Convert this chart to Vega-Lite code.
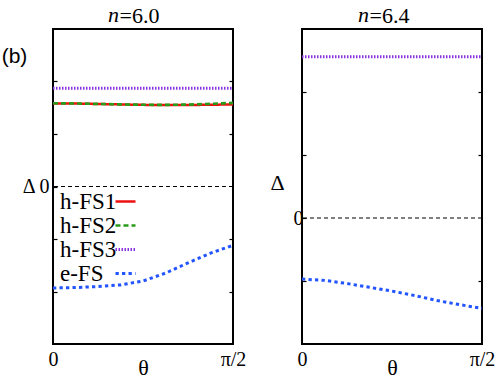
{
  "$schema": "https://vega.github.io/schema/vega-lite/v6.json",
  "padding": {"left": 0, "top": 3, "right": 0, "bottom": 0},
  "autosize": {"type": "pad"},
  "background": "white",
  "config": {
    "font": "Liberation Serif",
    "view": {"stroke": "black", "strokeWidth": 2},
    "axis": {"grid": false, "domain": false, "labelFont": "Liberation Serif", "titleFont": "Liberation Serif", "labelFontSize": 20, "titleFontSize": 22, "labelColor": "black", "titleColor": "black", "tickColor": "black", "tickWidth": 1.2, "titleFontWeight": "normal"},
    "title": {"font": "Liberation Serif", "fontSize": 22, "fontWeight": "normal", "color": "black"}
  },
  "bounds": "flush",
  "spacing": 69,
  "resolve": {"scale": {"color": "independent", "strokeDash": "independent", "strokeWidth": "independent"}},
  "hconcat": [
    {
      "width": 180,
      "height": 315,
      "title": {"text": "n", "fontStyle": "italic", "anchor": "start", "frame": "group", "dx": 55, "dy": 27},
      "resolve": {"axis": {"x": "independent", "y": "independent"}},
      "layer": [
        {
          "data": {"values": [{"level": 0}]},
          "mark": {"type": "rule", "strokeDash": [4, 3], "strokeWidth": 1, "color": "black"},
          "encoding": {
            "y": {"field": "level", "type": "quantitative", "scale": {"domain": [-3, 3], "nice": false}, "axis": {"orient": "right", "values": [-2, -1, 1, 2], "labels": false, "tickSize": -4, "title": null}}
          }
        },
        {
          "data": {"values": [{"level": 0}]},
          "mark": {"type": "point", "opacity": 0},
          "encoding": {
            "x": {"field": "level", "type": "quantitative", "scale": {"domain": [0, 1.5708], "nice": false, "zero": false}, "axis": {"orient": "top", "ticks": false, "labels": false, "title": "=6.0", "titleX": 66, "titleY": -7, "titleAlign": "left", "titleAnchor": "start", "titleBaseline": "alphabetic"}}
          }
        },
        {
          "data": {"values": [
            {"series": "h-FS1", "theta": 0, "delta": 1.583},
            {"series": "h-FS1", "theta": 0.19635, "delta": 1.58},
            {"series": "h-FS1", "theta": 0.3927, "delta": 1.572},
            {"series": "h-FS1", "theta": 0.58905, "delta": 1.563},
            {"series": "h-FS1", "theta": 0.7854, "delta": 1.555},
            {"series": "h-FS1", "theta": 0.98175, "delta": 1.551},
            {"series": "h-FS1", "theta": 1.1781, "delta": 1.552},
            {"series": "h-FS1", "theta": 1.37445, "delta": 1.557},
            {"series": "h-FS1", "theta": 1.5708, "delta": 1.563},
            {"series": "h-FS2", "theta": 0, "delta": 1.585},
            {"series": "h-FS2", "theta": 0.19635, "delta": 1.581},
            {"series": "h-FS2", "theta": 0.3927, "delta": 1.573},
            {"series": "h-FS2", "theta": 0.58905, "delta": 1.564},
            {"series": "h-FS2", "theta": 0.7854, "delta": 1.557},
            {"series": "h-FS2", "theta": 0.98175, "delta": 1.555},
            {"series": "h-FS2", "theta": 1.1781, "delta": 1.56},
            {"series": "h-FS2", "theta": 1.37445, "delta": 1.575},
            {"series": "h-FS2", "theta": 1.5708, "delta": 1.592},
            {"series": "h-FS3", "theta": 0, "delta": 1.872},
            {"series": "h-FS3", "theta": 0.7854, "delta": 1.872},
            {"series": "h-FS3", "theta": 1.5708, "delta": 1.872},
            {"series": "e-FS", "theta": 0, "delta": -1.932},
            {"series": "e-FS", "theta": 0.19635, "delta": -1.925},
            {"series": "e-FS", "theta": 0.3927, "delta": -1.905},
            {"series": "e-FS", "theta": 0.58905, "delta": -1.875},
            {"series": "e-FS", "theta": 0.7854, "delta": -1.8},
            {"series": "e-FS", "theta": 0.98175, "delta": -1.65},
            {"series": "e-FS", "theta": 1.1781, "delta": -1.455},
            {"series": "e-FS", "theta": 1.37445, "delta": -1.27},
            {"series": "e-FS", "theta": 1.5708, "delta": -1.12}
          ]},
          "mark": {"type": "line"},
          "encoding": {
            "x": {"field": "theta", "type": "quantitative", "scale": {"domain": [0, 1.5708], "nice": false, "zero": false}, "axis": {"values": [0, 1.5708], "labelExpr": "datum.value == 0 ? '0' : 'π/2'", "ticks": false, "labelPadding": 5, "labelFlush": false, "title": "θ", "titleY": 30, "titleBaseline": "alphabetic"}},
            "y": {"field": "delta", "type": "quantitative", "scale": {"domain": [-3, 3], "nice": false}, "axis": {"values": [-2, -1, 0, 1, 2], "labelExpr": "datum.value == 0 ? 'Δ 0' : ''", "tickSize": -4, "labelPadding": 8, "title": "(b)", "titleAngle": 0, "titleFont": "Liberation Sans", "titleFontSize": 21, "titleX": -39, "titleY": 27, "titleAlign": "center", "titleBaseline": "middle"}},
            "color": {"field": "series", "type": "nominal", "scale": {"domain": ["h-FS1", "h-FS2", "h-FS3", "e-FS"], "range": ["#ee1111", "#2a9a1a", "#8833dd", "#2255ff"]}, "legend": {"orient": "none", "legendX": 61, "legendY": 161, "title": null, "symbolType": "stroke", "symbolSize": 400, "labelAlign": "left", "labelOffset": -77, "labelFontSize": 23, "labelFont": "Liberation Serif", "labelColor": "black", "rowPadding": -3, "padding": 0}},
            "strokeDash": {"field": "series", "type": "nominal", "scale": {"domain": ["h-FS1", "h-FS2", "h-FS3", "e-FS"], "range": [[1, 0], [5, 3], [1.5, 1.5], [3.3, 3.2]]}},
            "strokeWidth": {"field": "series", "type": "nominal", "scale": {"domain": ["h-FS1", "h-FS2", "h-FS3", "e-FS"], "range": [2.5, 3, 2.5, 3.5]}}
          }
        }
      ]
    },
    {
      "width": 180,
      "height": 315,
      "title": {"text": "n", "fontStyle": "italic", "anchor": "start", "frame": "group", "dx": 56, "dy": 27},
      "resolve": {"axis": {"x": "independent", "y": "independent"}},
      "layer": [
        {
          "data": {"values": [{"level": 0}]},
          "mark": {"type": "rule", "strokeDash": [4, 3], "strokeWidth": 1, "color": "black"},
          "encoding": {
            "y": {"field": "level", "type": "quantitative", "scale": {"domain": [-2, 3], "nice": false}, "axis": {"orient": "right", "values": [-1, 1, 2], "labels": false, "tickSize": -4, "title": null}}
          }
        },
        {
          "data": {"values": [{"level": 0}]},
          "mark": {"type": "point", "opacity": 0},
          "encoding": {
            "x": {"field": "level", "type": "quantitative", "scale": {"domain": [0, 1.5708], "nice": false, "zero": false}, "axis": {"orient": "top", "ticks": false, "labels": false, "title": "=6.4", "titleX": 67, "titleY": -7, "titleAlign": "left", "titleAnchor": "start", "titleBaseline": "alphabetic"}}
          }
        },
        {
          "data": {"values": [
            {"series": "h-FS3", "theta": 0, "delta": 2.56},
            {"series": "h-FS3", "theta": 0.7854, "delta": 2.56},
            {"series": "h-FS3", "theta": 1.5708, "delta": 2.56},
            {"series": "e-FS", "theta": 0, "delta": -0.97},
            {"series": "e-FS", "theta": 0.19635, "delta": -0.99},
            {"series": "e-FS", "theta": 0.3927, "delta": -1.04},
            {"series": "e-FS", "theta": 0.58905, "delta": -1.1},
            {"series": "e-FS", "theta": 0.7854, "delta": -1.16},
            {"series": "e-FS", "theta": 0.98175, "delta": -1.23},
            {"series": "e-FS", "theta": 1.1781, "delta": -1.31},
            {"series": "e-FS", "theta": 1.37445, "delta": -1.375},
            {"series": "e-FS", "theta": 1.5708, "delta": -1.435}
          ]},
          "mark": {"type": "line"},
          "encoding": {
            "x": {"field": "theta", "type": "quantitative", "scale": {"domain": [0, 1.5708], "nice": false, "zero": false}, "axis": {"values": [0, 1.5708], "labelExpr": "datum.value == 0 ? '0' : 'π/2'", "ticks": false, "labelPadding": 5, "labelFlush": false, "title": "θ", "titleY": 30, "titleBaseline": "alphabetic"}},
            "y": {"field": "delta", "type": "quantitative", "scale": {"domain": [-2, 3], "nice": false}, "axis": {"values": [-1, 0, 1, 2], "labelExpr": "datum.value == 0 ? '0' : ''", "tickSize": -4, "labelPadding": 3, "title": "Δ", "titleAngle": 0, "titleX": -25, "titleY": 153, "titleAlign": "center", "titleBaseline": "middle"}},
            "color": {"field": "series", "type": "nominal", "scale": {"domain": ["h-FS1", "h-FS2", "h-FS3", "e-FS"], "range": ["#ee1111", "#2a9a1a", "#8833dd", "#2255ff"]}, "legend": null},
            "strokeDash": {"field": "series", "type": "nominal", "scale": {"domain": ["h-FS1", "h-FS2", "h-FS3", "e-FS"], "range": [[1, 0], [5, 3], [1.5, 1.5], [3.3, 3.2]]}, "legend": null},
            "strokeWidth": {"field": "series", "type": "nominal", "scale": {"domain": ["h-FS1", "h-FS2", "h-FS3", "e-FS"], "range": [2.5, 3, 2.5, 3.5]}, "legend": null}
          }
        }
      ]
    }
  ]
}
